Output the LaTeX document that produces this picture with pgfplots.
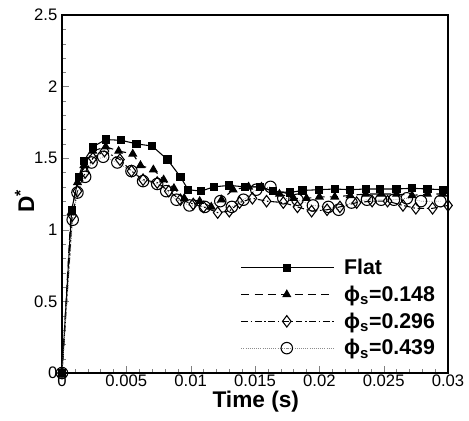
\documentclass[border=0pt]{standalone}
\usepackage{pgfplots}
\pgfplotsset{compat=1.18}
\usepackage{fontspec}
\setmainfont{Liberation Sans}
\begin{document}
\begin{tikzpicture}
\begin{axis}[scale only axis,width=289.5pt,height=268.5pt,
  xmin=0,xmax=0.03,ymin=0,ymax=2.5,scaled x ticks=false,
  xtick={0,0.005,0.01,0.015,0.02,0.025,0.03},xticklabels={0,0.005,0.01,0.015,0.02,0.025,0.03},
  ytick={0,0.5,1,1.5,2,2.5},yticklabels={0,0.5,1,1.5,2,2.5},
  minor x tick num=4,minor y tick num=4,
  xtick pos=bottom,ytick pos=left,tick align=inside,
  major tick length=5pt,minor tick length=3pt,
  axis line style={line width=0.9pt},
  tick label style={font=\fontsize{12.5}{14}\selectfont},
  xticklabel style={yshift=2pt},
  xlabel={\textbf{Time (s)}},xlabel style={font=\fontsize{17}{19}\selectfont,at={(axis description cs:0.502,0)},anchor=center,yshift=-21.5pt},
  ylabel={\textbf{D\textsuperscript{*}}},ylabel style={font=\fontsize{17}{19}\selectfont,at={(axis description cs:-0.097,0.48)},anchor=center},
  legend image code/.code={\draw[mark repeat=2,mark phase=2] plot coordinates {(0cm,0cm)(1.2cm,0cm)(2.45cm,0cm)};},
  legend style={draw=none,fill=none,at={(0.452,0.334)},anchor=north west,font=\fontsize{16}{18}\selectfont\bfseries,row sep=3pt},
  legend cell align=left]
\addplot[black,line width=0.8pt,mark=square*,mark size=2.7pt] coordinates {
(0,0)(0.00075,1.14)(0.0013,1.37)(0.0017,1.48)(0.0024,1.58)(0.0034,1.63)(0.0046,1.625)(0.0058,1.60)(0.0070,1.585)(0.0082,1.49)(0.0092,1.37)(0.0098,1.28)(0.0108,1.27)(0.0118,1.30)(0.0130,1.31)(0.0142,1.30)(0.0154,1.30)(0.0164,1.27)(0.0177,1.26)(0.0187,1.275)(0.0200,1.28)(0.0212,1.285)(0.0224,1.28)(0.0236,1.285)(0.0247,1.285)(0.0260,1.285)(0.0272,1.29)(0.0284,1.285)(0.0296,1.28)};
\addplot[black,line width=0.8pt,dash pattern=on 6pt off 4pt,mark=triangle*,mark size=3.2pt,mark options={solid}] coordinates {
(0,0)(0.0007,1.12)(0.0012,1.33)(0.0017,1.45)(0.0024,1.55)(0.0034,1.58)(0.0044,1.55)(0.0055,1.53)(0.0061,1.45)(0.0071,1.42)(0.0079,1.35)(0.0087,1.29)(0.0095,1.22)(0.0107,1.20)(0.0116,1.16)(0.0124,1.21)(0.0133,1.28)(0.0145,1.30)(0.0155,1.30)(0.0169,1.25)(0.0180,1.22)(0.0190,1.22)(0.0200,1.23)(0.0212,1.23)(0.0224,1.24)(0.0236,1.25)(0.0248,1.25)(0.0260,1.25)(0.0272,1.24)(0.0284,1.25)(0.0296,1.25)};
\addplot[black,line width=0.8pt,dash pattern=on 5pt off 2pt on 1.2pt off 2pt,mark=diamond,mark size=4.3pt,mark options={solid,fill=white}] coordinates {
(0,0)(0.0008,1.10)(0.0012,1.27)(0.0018,1.40)(0.0024,1.50)(0.0033,1.55)(0.0045,1.49)(0.0054,1.41)(0.0063,1.35)(0.0074,1.33)(0.0083,1.27)(0.0092,1.21)(0.0102,1.18)(0.0110,1.16)(0.0121,1.12)(0.0130,1.13)(0.0138,1.19)(0.0148,1.22)(0.0159,1.20)(0.0172,1.19)(0.0183,1.16)(0.0194,1.13)(0.0206,1.14)(0.0216,1.16)(0.0229,1.19)(0.0241,1.20)(0.0253,1.20)(0.0265,1.17)(0.0275,1.15)(0.0288,1.15)(0.0300,1.17)};
\addplot[black!45,line width=0.6pt,densely dotted,mark=o,mark size=4.3pt,mark options={solid,draw=black,fill=none,line width=0.8pt}] coordinates {
(0,0)(0.00083,1.07)(0.0012,1.26)(0.0018,1.37)(0.0023,1.47)(0.0032,1.51)(0.0043,1.47)(0.0054,1.41)(0.0063,1.34)(0.0074,1.32)(0.0081,1.27)(0.0089,1.21)(0.0099,1.17)(0.0111,1.16)(0.0123,1.20)(0.0132,1.16)(0.0141,1.21)(0.0151,1.28)(0.0162,1.30)(0.0172,1.22)(0.0183,1.21)(0.0195,1.17)(0.0207,1.16)(0.0215,1.14)(0.0225,1.19)(0.0237,1.21)(0.0248,1.21)(0.0258,1.21)(0.0268,1.22)(0.0279,1.20)(0.0294,1.20)};
\legend{\hspace{5pt}Flat,\hspace{5pt}ϕ\textsubscript{s}=0.148,\hspace{5pt}ϕ\textsubscript{s}=0.296,\hspace{5pt}ϕ\textsubscript{s}=0.439}
\end{axis}
\pgfresetboundingbox
\path (current axis.south west) ++(-46.5pt,-35.25pt) rectangle ([xshift=15.75pt,yshift=11.25pt]current axis.north east);
\end{tikzpicture}
\end{document}
